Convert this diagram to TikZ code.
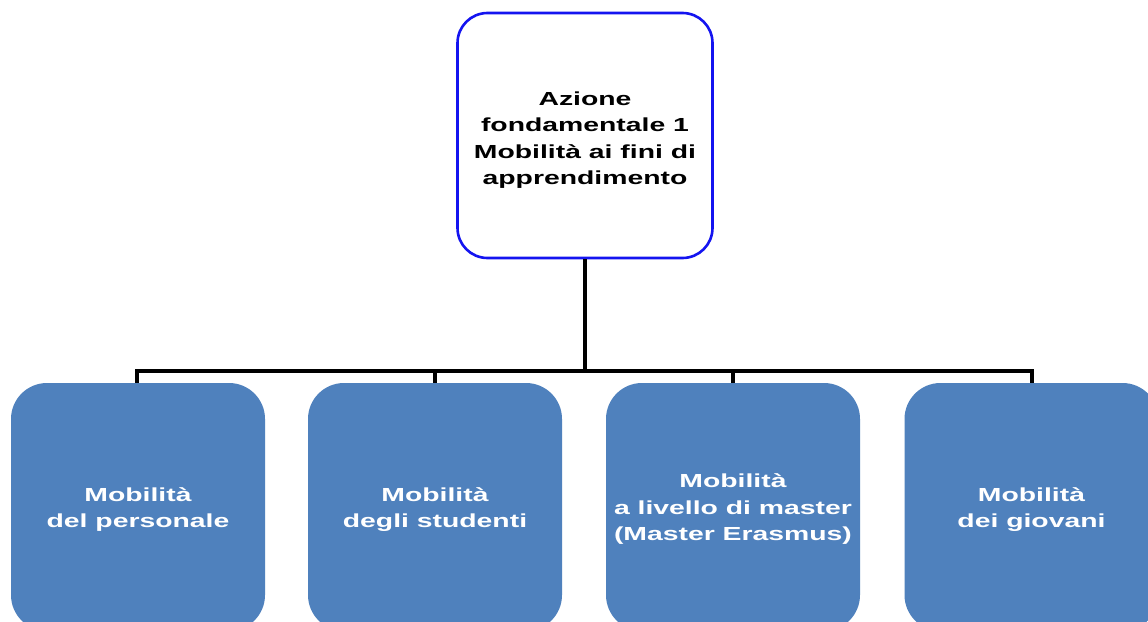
\documentclass[tikz,border=0pt]{standalone}
\usepackage{fontspec}
\setmainfont{Liberation Sans}[FakeStretch=1.5]
\definecolor{boxblue}{RGB}{79,129,189}
\definecolor{topborder}{RGB}{20,20,240}
\tikzset{
  txt/.style={align=center, font=\fontsize{18.9}{26.5}\selectfont\bfseries, inner sep=0pt},
  topbox/.style={draw=topborder, line width=2.6pt, fill=white, rounded corners=30pt,
    minimum width=255pt, minimum height=245pt, inner sep=0pt},
  childbox/.style={fill=boxblue, rounded corners=36pt,
    minimum width=254pt, minimum height=248pt, inner sep=0pt},
  toptext/.style={txt, text=black},
  childtext/.style={txt, text=white},
  conn/.style={draw=black, line width=3.2pt}
}
\begin{document}
\begin{tikzpicture}[x=1pt,y=-1pt]
\useasboundingbox (0,0) rectangle (1148,621);
\fill[white] (0,0) rectangle (1148,621);
\node[topbox] (top) at (585,135.5) {};
\node[toptext] (toptxt) at ([yshift=-4.5pt]top.center) {Azione\\fondamentale 1\\Mobilità ai fini di\\apprendimento};
\node[childbox] (b1) at (138,507) {};
\node[childbox] (b2) at (435,507) {};
\node[childbox] (b3) at (733,507) {};
\node[childbox] (b4) at (1031.5,507) {};
\node[childtext] (t1) at ([yshift=-2.5pt]b1.center) {Mobilità\\del personale};
\node[childtext] (t2) at ([yshift=-2.5pt]b2.center) {Mobilità\\degli studenti};
\node[childtext] (t3) at ([yshift=-2.5pt]b3.center) {Mobilità\\a livello di master\\(Master Erasmus)};
\node[childtext] (t4) at ([yshift=-2.5pt]b4.center) {Mobilità\\dei giovani};
\coordinate (hl) at (137,371);
\coordinate (hr) at (1032,371);
\draw[conn] (top.south) -- (top.south |- hl);
\draw[conn, line cap=rect] (hl) -- (hr);
\draw[conn] (hl) -- (hl |- b1.north);
\draw[conn] (b2.north |- hl) -- (b2.north);
\draw[conn] (b3.north |- hl) -- (b3.north);
\draw[conn] (hr) -- (hr |- b4.north);
\end{tikzpicture}
\end{document}
